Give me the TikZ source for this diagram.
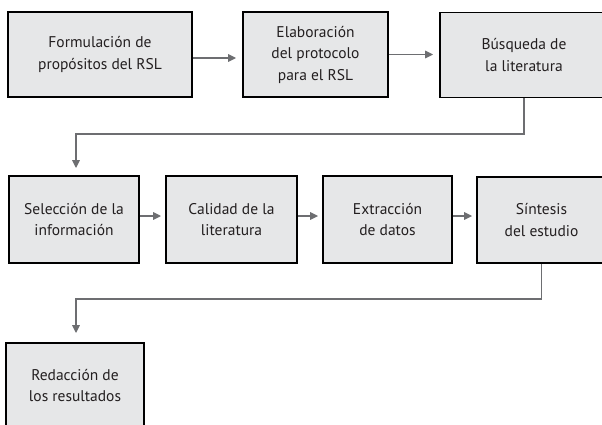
\documentclass[tikz,border=0pt]{standalone}
\usepackage{fontspec}
\setmainfont{PT Sans}
\usepackage{xcolor}
\usetikzlibrary{arrows.meta}

\definecolor{boxfill}{HTML}{E6E7E8}
\definecolor{linkgray}{HTML}{6D6E71}
\definecolor{inkdark}{HTML}{231F20}

\begin{document}
\begin{tikzpicture}[x=1pt,
					y=-1pt,
					%>=stealth',
					font=\fontsize{15.5}{21.5}\selectfont,
					stage/.style={rectangle,draw=black,line width=1.8pt,fill=boxfill,
						text=inkdark,align=center,inner sep=0pt,minimum height=85pt},
					link/.style={draw=linkgray,line width=1.6pt,
						-{Triangle[length=8pt,width=7.5pt]}}]

  \useasboundingbox (0,0) rectangle (602,425);

  % primera fila
  \node[stage,minimum width=184pt] (form) at (100,54.5) {Formulación de\\propósitos del RSL};
  \node[stage,minimum width=145pt] (elab) at (315.5,54.5) {Elaboración\\del protocolo\\para el RSL};
  \node[stage,minimum width=168pt] (busq) at (524,55) {Búsqueda de\\la literatura};

  % segunda fila
  \node[stage,minimum width=130pt,minimum height=87pt] (selec) at (74,219.5) {Selección de la\\información};
  \node[stage,minimum width=131pt,minimum height=87pt] (calid) at (231.5,219.5) {Calidad de la\\literatura};
  \node[stage,minimum width=129pt,minimum height=87pt] (extra) at (387.5,219.5) {Extracción\\de datos};
  \node[stage,minimum width=129pt,minimum height=86pt] (sint) at (541.5,220) {Síntesis\\del estudio};

  % tercera fila
  \node[stage,minimum width=138pt] (redac) at (75,385.5) {Redacción de\\los resultados};

  \path[link,shorten >=6pt]
    ([yshift=-3.5pt]form.east) -- ([yshift=-3.5pt]form.east -| elab.west);
  \path[link,shorten >=6pt]
    (elab.east) -- (elab.east -| busq.west);
  \path[link,shorten >=7pt]
    (busq.south) -- ++(0,35.5) -| ([xshift=2pt]selec.north);
  \path[link,shorten >=4pt]
    ([yshift=3.5pt]selec.east) -- ([yshift=3.5pt]selec.east -| calid.west);
  \path[link,shorten >=4pt]
    ([yshift=3.5pt]calid.east) -- ([yshift=3.5pt]calid.east -| extra.west);
  \path[link,shorten >=4pt]
    ([yshift=3.5pt]extra.east) -- ([yshift=3.5pt]extra.east -| sint.west);
  \path[link,shorten >=9pt]
    (sint.south) -- ++(0,35) -| ([xshift=1pt]redac.north);
\end{tikzpicture}
\end{document}
